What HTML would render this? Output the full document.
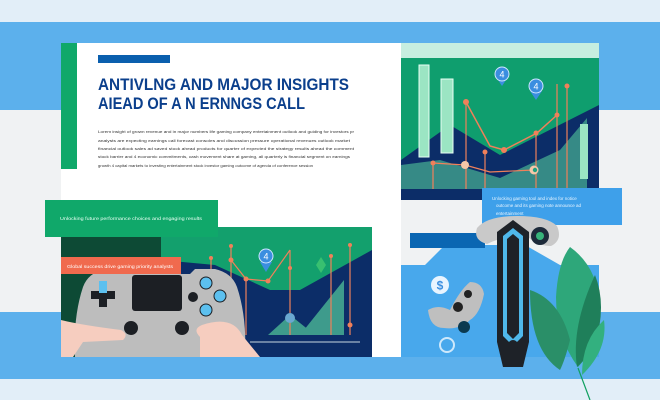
<!DOCTYPE html>
<html><head><meta charset="utf-8"><style>
html,body{margin:0;padding:0;width:660px;height:400px;overflow:hidden;background:#f0f2f3}
svg{display:block}
text{font-family:"Liberation Sans",sans-serif}
</style></head><body>
<svg width="660" height="400" viewBox="0 0 660 400" xmlns="http://www.w3.org/2000/svg">
<rect x="0" y="0" width="660" height="22" fill="#e2eef8"/>
<rect x="0" y="22" width="660" height="88" fill="#5cb0ec"/>
<rect x="0" y="110" width="660" height="202" fill="#f0f2f3"/>
<rect x="0" y="312" width="660" height="67" fill="#5cb0ec"/>
<rect x="0" y="379" width="660" height="21" fill="#e2eef8"/>

<rect x="61" y="43" width="340" height="314" fill="#ffffff"/>
<rect x="61" y="43" width="16" height="126" fill="#10a86a"/>
<rect x="98" y="55" width="72" height="8" fill="#0a5fae"/>
<text x="98" y="90" font-size="16.5" font-weight="bold" fill="#0b3f8c" textLength="251" lengthAdjust="spacingAndGlyphs">ANTIVLNG AND MAJOR INSIGHTS</text>
<text x="98" y="109" font-size="16.5" font-weight="bold" fill="#0b3f8c" textLength="207" lengthAdjust="spacingAndGlyphs">AIEAD OF A N ERNNGS CALL</text>
<g font-size="4" fill="#333">
<text x="98" y="133" textLength="256" lengthAdjust="spacingAndGlyphs">Lorem insight of grown revenue and in major numbers life gaming company entertainment outlook and guiding for investors pr</text>
<text x="98" y="142" textLength="252" lengthAdjust="spacingAndGlyphs">analysts are expecting earnings call forecast consoles and discussion pressure operational revenues outlook market</text>
<text x="98" y="150" textLength="256" lengthAdjust="spacingAndGlyphs">financial outlook sales ad saved stock ahead products for quarter of expected the strategy results ahead the comment</text>
<text x="98" y="158" textLength="252" lengthAdjust="spacingAndGlyphs">stock barrier and 4 economic commitments, cash movement share at gaming, all quarterly is financial segment on earnings</text>
<text x="98" y="167" textLength="215" lengthAdjust="spacingAndGlyphs">growth 4 capital markets to investing entertainment stock investor gaming outcome of agenda of conference session</text>
</g>

<rect x="401" y="43" width="198" height="146" fill="#0f9e6e"/>
<rect x="401" y="43" width="198" height="15" fill="#c6eee0"/>
<polygon points="401,160 450,125 500,155 599,105 599,189 401,189" fill="#0c2d68"/>
<polygon points="401,189 401,165 440,160 500,178 560,150 587,118 587,189" fill="#3e9b8c" opacity="0.85"/>
<rect x="419" y="65" width="10" height="92" fill="#9be5c3" stroke="#e8fff4" stroke-width="1"/>
<rect x="441" y="79" width="12" height="74" fill="#9be5c3" stroke="#e8fff4"/>
<rect x="580" y="124" width="8" height="55" fill="#9be5c3"/>
<polyline points="466,102 490,146 504,150 537,133 557,115" fill="none" stroke="#f0805a" stroke-width="1.5"/>
<polyline points="433,163 465,165 490,172 534,170" fill="none" stroke="#f0805a" stroke-width="1.2"/>
<g stroke="#f0805a" stroke-width="1.2"><line x1="466" y1="102" x2="466" y2="189"/><line x1="485" y1="152" x2="485" y2="189"/><line x1="536" y1="132" x2="536" y2="189"/><line x1="557" y1="84" x2="557" y2="189"/><line x1="567" y1="86" x2="567" y2="189"/><line x1="433" y1="163" x2="433" y2="189"/></g>
<g fill="#f0805a"><circle cx="466" cy="102" r="3"/><circle cx="504" cy="150" r="3"/><circle cx="485" cy="152" r="2.5"/><circle cx="557" cy="115" r="2.5"/><circle cx="536" cy="133" r="2.5"/><circle cx="567" cy="86" r="2.5"/><circle cx="433" cy="163" r="2.5"/><circle cx="465" cy="165" r="4" fill="#f5c7a8"/><circle cx="534" cy="170" r="4.5" fill="#f5c7a8"/></g>
<circle cx="535" cy="170" r="2.2" fill="#20a080"/>
<polygon points="496,77 502,86 508,77" fill="#3b8ee0"/>
<circle cx="502" cy="74" r="7" fill="#3b8ee0" stroke="#cfe6ff"/><text x="502" y="77.5" font-size="9" fill="#fff" text-anchor="middle">4</text>
<polygon points="530,91 536,100 542,91" fill="#3b8ee0"/><circle cx="536" cy="86" r="7" fill="#3b8ee0" stroke="#cfe6ff"/><text x="536" y="89.5" font-size="9" fill="#fff" text-anchor="middle">4</text>

<rect x="401" y="189" width="81" height="11" fill="#0c2d68"/>
<rect x="482" y="188" width="140" height="37" fill="#3ea0ea"/>
<text x="492" y="200" font-size="4.5" fill="#e8f4ff">Unlocking gaming tool and index for notice</text>
<text x="496" y="207" font-size="4.5" fill="#e8f4ff">outcome and its gaming note announce ad</text>
<text x="496" y="215" font-size="4.5" fill="#e8f4ff">entertainment</text>
<polygon points="401,265 425,265 445,245 525,245 560,265 599,265 599,357 401,357" fill="#48a8ec"/>
<rect x="410" y="233" width="75" height="15" fill="#0a66b2"/>
<circle cx="440" cy="285" r="9" fill="#e8f4ff"/><text x="440" y="289.5" font-size="12" fill="#3b8ee0" text-anchor="middle" font-weight="bold">$</text>
<path d="M428,310 q10,-6 22,0 q10,-20 20,-28 q12,0 14,12 q-4,20 -14,26 q-10,10 -26,8 q-14,0 -16,-18z" fill="#bfbfbf"/>
<circle cx="458" cy="307" r="5" fill="#222"/><circle cx="468" cy="294" r="4" fill="#222"/><circle cx="464" cy="327" r="6" fill="#0b3a50"/>
<circle cx="447" cy="345" r="7" fill="none" stroke="#cde8fb" stroke-width="2"/>
<path d="M477,228 q10,-12 40,-12 q30,0 40,10 q6,14 -6,20 q-12,0 -22,-8 l-20,0 q-10,0 -22,6 q-14,-4 -10,-16z" fill="#c9c9c9"/>
<circle cx="540" cy="236" r="9" fill="#1d2a3a"/><circle cx="540" cy="236" r="4" fill="#36b37a"/>
<path d="M497,232 l16,-12 l16,12 l0,110 l-6,25 l-20,0 l-6,-25z" fill="#1e2228"/>
<path d="M503,236 l10,-8 l10,8 l0,100 l-10,10 l-10,-10z" fill="#4fb8ea"/>
<path d="M507,239 l6,-5 l6,5 l0,94 l-6,6 l-6,-6z" fill="#1e2228"/>
<circle cx="513" cy="345" r="5" fill="#1e2228"/>
<line x1="578" y1="368" x2="590" y2="400" stroke="#10a060" stroke-width="1.2"/>
<path d="M570,247 q28,20 30,60 q-2,40 -22,60 q-22,-30 -22,-70 q2,-35 14,-50z" fill="#2ea77a"/>
<path d="M530,290 q30,10 40,50 q-5,20 -10,30 q-30,-20 -30,-80z" fill="#2a8f68"/>
<path d="M595,275 q12,30 0,70 q-10,15 -18,22 q-6,-40 18,-92z" fill="#1f7f5a"/>
<path d="M604,320 q4,30 -22,55 q0,-35 22,-55z" fill="#33b07f"/>

<rect x="61" y="227" width="311" height="130" fill="#0c2d68"/>
<rect x="61" y="227" width="100" height="130" fill="#0d4a35"/>
<polygon points="161,227 372,227 372,250 300,290 270,290 215,265 161,260" fill="#13a06d"/>
<polygon points="268,335 290,315 315,335" fill="#3e9b8c"/>
<polygon points="300,335 344,280 344,335" fill="#3e9b8c"/>
<line x1="250" y1="342" x2="360" y2="342" stroke="#c8d6e0" stroke-width="1"/>
<polyline points="231,260 246,279 268,281 290,250" fill="none" stroke="#f0805a" stroke-width="1.2"/>
<g stroke="#f0805a" stroke-width="1.2"><line x1="231" y1="246" x2="231" y2="335"/><line x1="211" y1="258" x2="211" y2="335"/><line x1="290" y1="250" x2="290" y2="335"/><line x1="331" y1="256" x2="331" y2="335"/><line x1="350" y1="245" x2="350" y2="335"/><line x1="246" y1="279" x2="246" y2="335"/></g>
<g fill="#f0805a"><circle cx="231" cy="246" r="2"/><circle cx="231" cy="260" r="2.5"/><circle cx="211" cy="258" r="2"/><circle cx="268" cy="281" r="2.5"/><circle cx="246" cy="279" r="2.5"/><circle cx="290" cy="268" r="2"/><circle cx="331" cy="256" r="2"/><circle cx="350" cy="245" r="2"/><circle cx="350" cy="325" r="2.5"/></g>
<polygon points="260,262 266,272 272,262" fill="#3b8ee0"/><circle cx="266" cy="256" r="7" fill="#3b8ee0" stroke="#cfe6ff"/><text x="266" y="259.5" font-size="9" fill="#fff" text-anchor="middle">4</text>
<circle cx="290" cy="318" r="5" fill="#6aa8d0"/>
<path d="M321,257 l-5,8 l5,8 l5,-8z" fill="#38c070"/>
<path d="M75,357 q-2,-40 8,-70 q5,-14 22,-18 l20,0 l5,5 l60,0 l5,-5 l20,0 q17,4 22,18 q10,30 8,70z" fill="#bdbdbd"/>
<rect x="132" y="275" width="50" height="36" rx="3" fill="#1c1f24"/>
<path d="M99,283 h8 v8 h8 v8 h-8 v8 h-8 v-8 h-8 v-8 h8z" fill="#1c1f24"/>
<rect x="99" y="281" width="8" height="12" fill="#5cc0ef"/>
<circle cx="206" cy="283" r="6" fill="#5cc0ef" stroke="#1c1f24"/><circle cx="220" cy="296" r="6" fill="#5cc0ef" stroke="#1c1f24"/><circle cx="206" cy="310" r="6" fill="#5cc0ef" stroke="#1c1f24"/><circle cx="193" cy="297" r="5" fill="#1c1f24"/>
<circle cx="131" cy="328" r="7" fill="#1c1f24"/><circle cx="182" cy="328" r="7" fill="#1c1f24"/>
<path d="M61,320 q20,5 60,10 q8,4 2,10 l-40,2 l-10,15 l-12,0z" fill="#f6cdbf"/>
<path d="M202,325 q30,-10 40,10 l18,22 l-60,0 l0,-20 q-8,-8 2,-12z" fill="#f6cdbf"/>
<rect x="61" y="257" width="120" height="17" fill="#f06a4e"/>
<text x="67" y="268" font-size="4.5" fill="#fff" textLength="106" lengthAdjust="spacingAndGlyphs">Global success drive gaming priority analysts</text>
<rect x="45" y="200" width="173" height="37" fill="#10a86a"/>
<text x="60" y="220" font-size="4.5" fill="#eafff4" textLength="142" lengthAdjust="spacingAndGlyphs">Unlocking future performance choices and engaging results</text>
</svg>
</body></html>
